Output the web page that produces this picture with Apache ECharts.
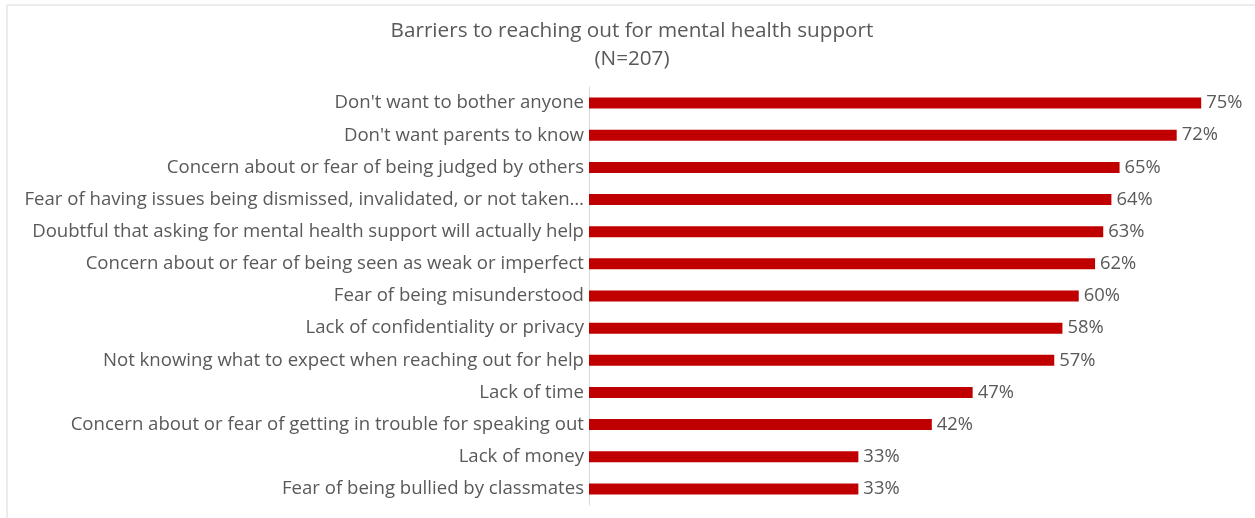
<!DOCTYPE html>
<html>
<head>
<meta charset="utf-8">
<script src="https://cdn.jsdelivr.net/npm/echarts@6/dist/echarts.min.js"></script>
<style>
  html, body { margin: 0; padding: 0; background: #fff; }
  #chart { width: 1255px; height: 518px; }
</style>
</head>
<body>
<div id="chart"></div>
<script>
// Survey barriers, listed top to bottom
const categories = [
  "Don't want to bother anyone",
  "Don't want parents to know",
  "Concern about or fear of being judged by others",
  "Fear of having issues being dismissed, invalidated, or not taken…",
  "Doubtful that asking for mental health support will actually help",
  "Concern about or fear of being seen as weak or imperfect",
  "Fear of being misunderstood",
  "Lack of confidentiality or privacy",
  "Not knowing what to expect when reaching out for help",
  "Lack of time",
  "Concern about or fear of getting in trouble for speaking out",
  "Lack of money",
  "Fear of being bullied by classmates"
];
// Share of respondents (%)
const percentages = [75, 72, 65, 64, 63, 62, 60, 58, 57, 47, 42, 33, 33];

const titleText = 'Barriers to reaching out for mental health support\n(N=207)';
const FONT = '"Open Sans", Lato, sans-serif';
const TEXT_COLOR = '#595959';

const chart = echarts.init(document.getElementById('chart'), null, { renderer: 'canvas' });
chart.setOption({
  animation: false,
  backgroundColor: '#ffffff',
  title: {
    text: titleText,
    left: 627,
    top: 12,
    textAlign: 'center',
    textStyle: {
      fontFamily: FONT,
      fontSize: 20.7,
      fontWeight: 'normal',
      color: TEXT_COLOR,
      lineHeight: 28
    }
  },
  graphic: [
    { type: 'line', shape: { x1: 7, y1: 5, x2: 1255, y2: 5 }, style: { stroke: '#ececec', lineWidth: 2 } },
    { type: 'line', shape: { x1: 7, y1: 5, x2: 7, y2: 518 }, style: { stroke: '#ececec', lineWidth: 2 } }
  ],
  grid: { left: 589, right: 13, top: 87, bottom: 13, containLabel: false },
  xAxis: {
    type: 'value',
    min: 0,
    max: 80,
    show: false
  },
  yAxis: {
    type: 'category',
    data: categories,
    inverse: true,
    axisLine: { show: true, lineStyle: { color: '#d9d9d9', width: 1 } },
    axisTick: { show: false },
    axisLabel: {
      margin: 5,
      padding: [3, 0, 0, 0],
      fontFamily: FONT,
      fontSize: 18.6,
      color: TEXT_COLOR
    }
  },
  series: [{
    type: 'bar',
    data: percentages,
    barWidth: 11,
    itemStyle: { color: '#c00000' },
    label: {
      show: true,
      position: 'right',
      distance: 5,
      padding: [3, 0, 0, 0],
      formatter: '{c}%',
      fontFamily: FONT,
      fontSize: 18.4,
      color: TEXT_COLOR
    }
  }]
});
</script>
</body>
</html>
